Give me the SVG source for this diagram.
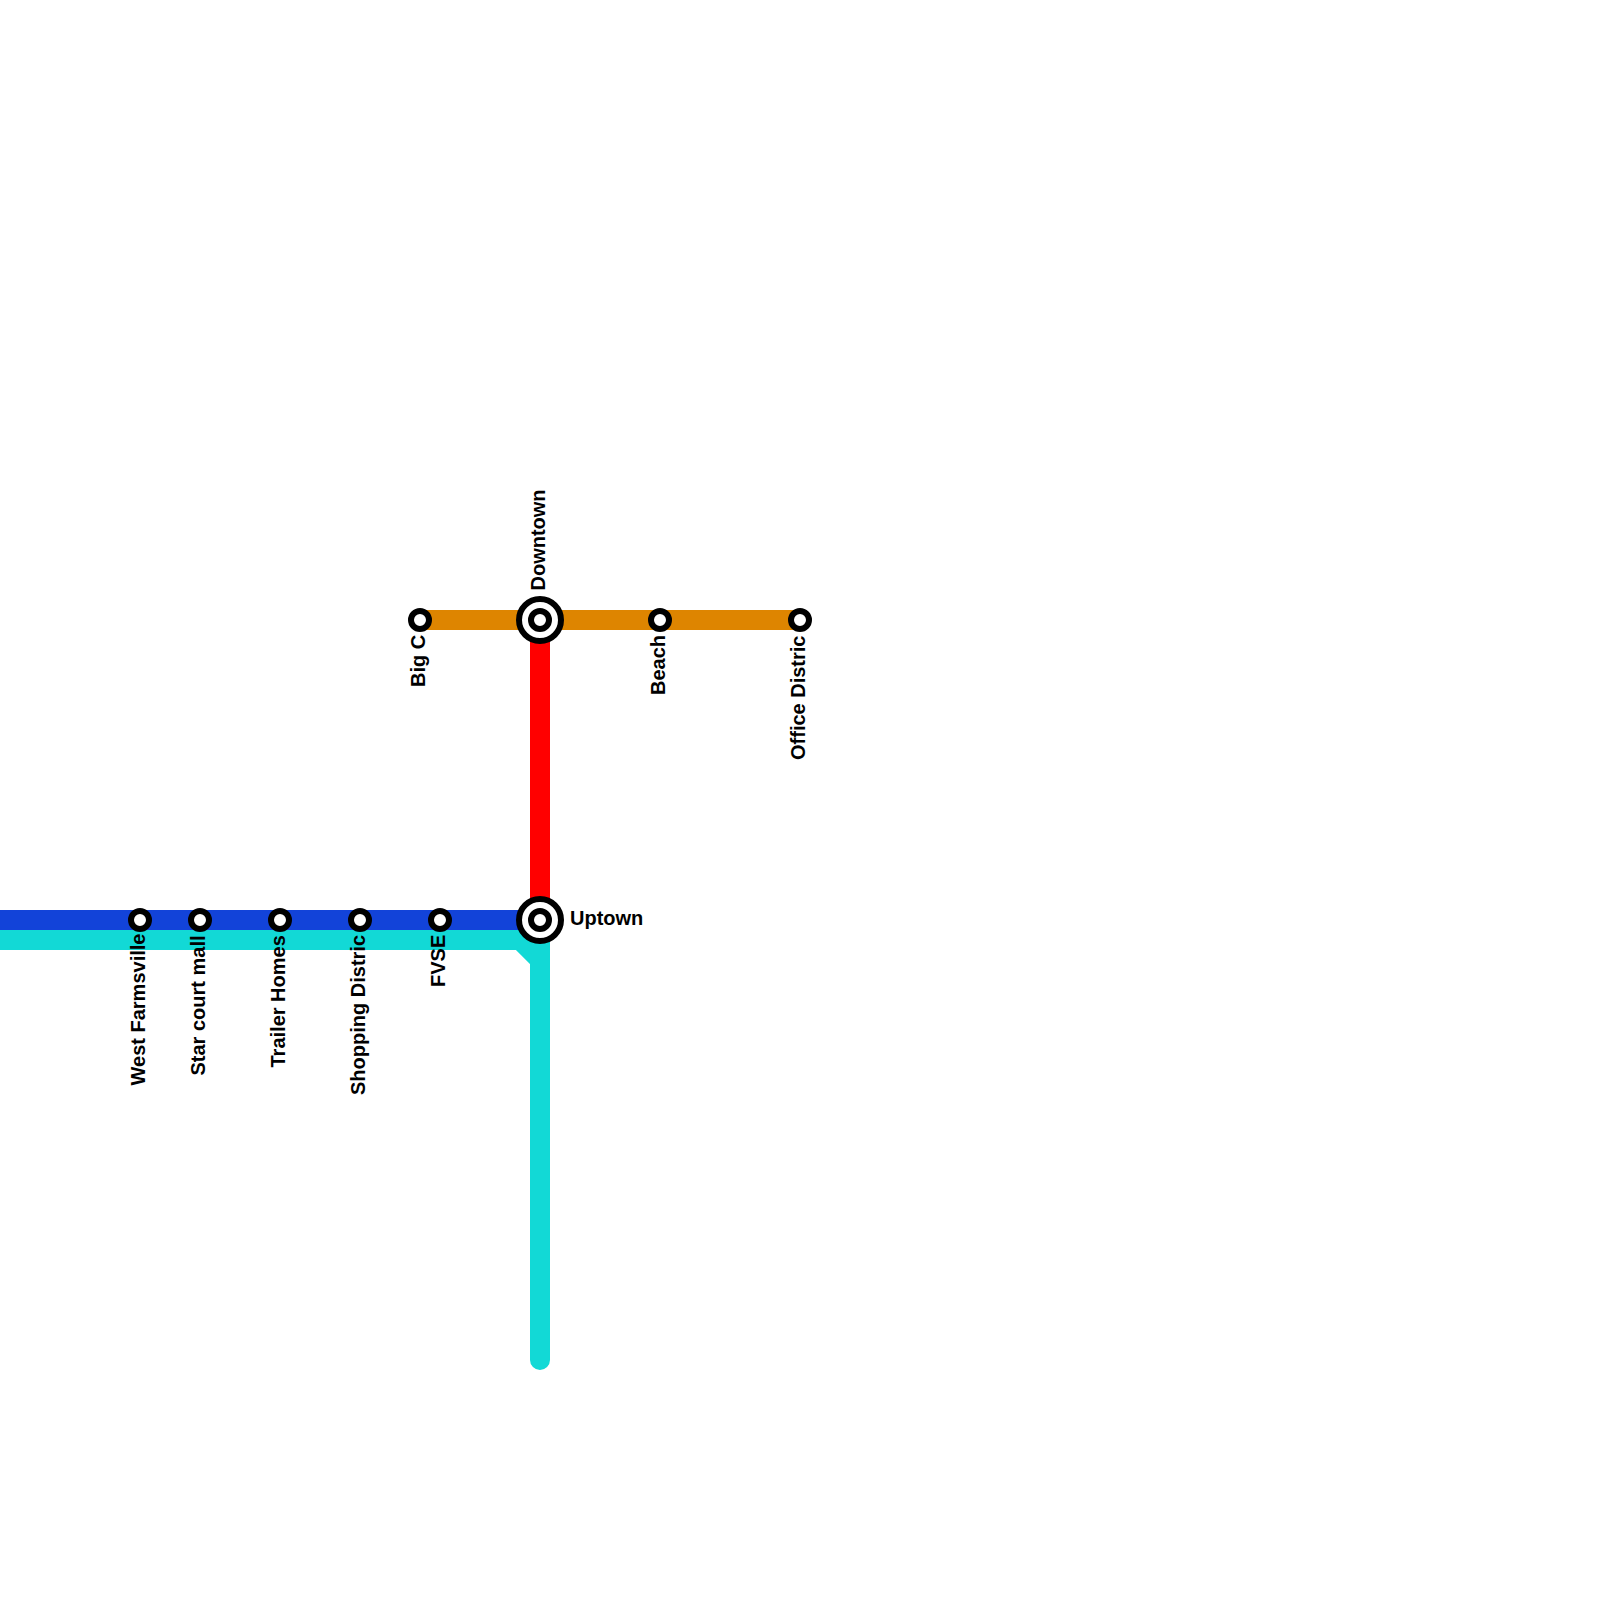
<svg xmlns="http://www.w3.org/2000/svg" width="1600" height="1600" viewBox="0 0 1600 1600">
<style>
.line{fill:none;stroke-width:20;stroke-linecap:round;stroke-linejoin:miter}
.st{fill:#fff;stroke:#000;stroke-width:6}
.hub{fill:#fff;stroke:#000;stroke-width:6}
.hc{fill:#fff;stroke:#000;stroke-width:6}
text{font-family:"Liberation Sans",Arial,sans-serif;font-size:20px;font-weight:700;fill:#000}
</style>
<rect width="1600" height="1600" fill="#fff"/>
<g id="connectors">
<path class="line" stroke="#ff0000" d="M540 620V920"/>
<path class="line" stroke="#de8500" d="M420 620H800"/>
<path class="line" stroke="#1243d9" d="M-20 920H540"/>
<path class="line" stroke="#12d9d6" d="M-20 940H520L540 960V1360M540 935V960"/>
</g>
<g id="west-farmsville"><circle class="st" cx="140" cy="920" r="9"/><text transform="translate(145 1085.5) rotate(-90)">West Farmsville</text></g>
<g id="star-court-mall"><circle class="st" cx="200" cy="920" r="9"/><text transform="translate(205 1075.5) rotate(-90)">Star court mall</text></g>
<g id="trailer-homes"><circle class="st" cx="280" cy="920" r="9"/><text transform="translate(285 1067.5) rotate(-90)">Trailer Homes</text></g>
<g id="shopping-district"><circle class="st" cx="360" cy="920" r="9"/><text transform="translate(365 1095) rotate(-90)">Shopping Distric</text></g>
<g id="fvse"><circle class="st" cx="440" cy="920" r="9"/><text transform="translate(445 987) rotate(-90)">FVSE</text></g>
<g id="big-c"><circle class="st" cx="420" cy="620" r="9"/><text transform="translate(425 687) rotate(-90)">Big C</text></g>
<g id="beach"><circle class="st" cx="660" cy="620" r="9"/><text transform="translate(665 695) rotate(-90)">Beach</text></g>
<g id="office-district"><circle class="st" cx="800" cy="620" r="9"/><text transform="translate(805 760) rotate(-90)">Office Distric</text></g>
<g id="downtown"><circle class="hub" cx="540" cy="620" r="21"/><circle class="hc" cx="540" cy="620" r="9"/><text transform="translate(545 590.5) rotate(-90)">Downtown</text></g>
<g id="uptown"><circle class="hub" cx="540" cy="920" r="21"/><circle class="hc" cx="540" cy="920" r="9"/><text x="570" y="925">Uptown</text></g>
</svg>
